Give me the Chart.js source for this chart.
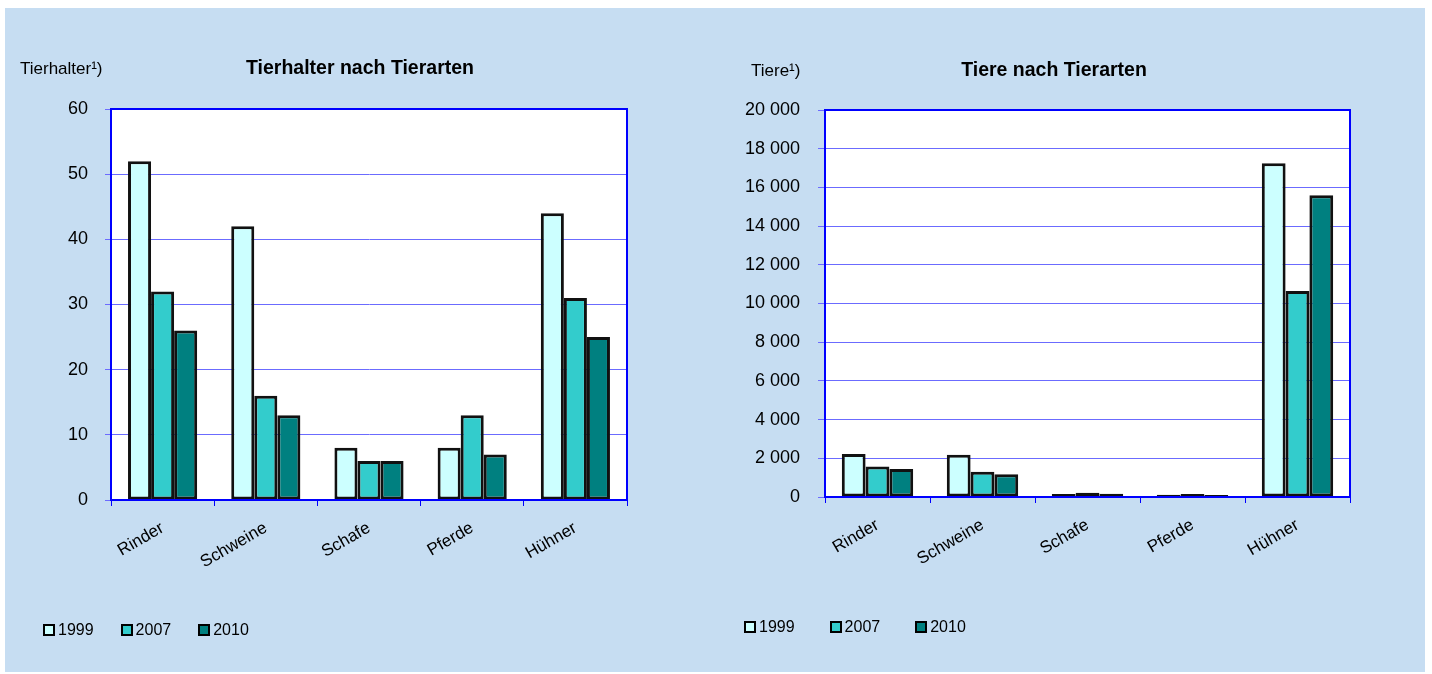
<!DOCTYPE html>
<html>
<head>
<meta charset="utf-8">
<script src="https://cdn.jsdelivr.net/npm/chart.js@4"></script>
<style>
  html, body { margin: 0; padding: 0; background: #ffffff; }
  #wrap { position: relative; width: 1432px; height: 674px; background: #ffffff; overflow: hidden; font-family: "Liberation Sans", Arial, sans-serif; }
  #panel { position: absolute; left: 5px; top: 8px; width: 1420px; height: 664px; background: #c6ddf2; }
  .cv { position: absolute; top: 0; }
  .txt { position: absolute; white-space: nowrap; color: #000; }
  .unit { font-size: 17px; line-height: 17px; }
  .title { font-size: 19.5px; line-height: 20px; font-weight: bold; transform: translateX(-50%); }
  .legend { font-size: 16px; line-height: 16px; display: flex; align-items: center; }
  .legend span.item { display: inline-flex; align-items: center; }
  .legend i { display: inline-block; width: 8px; height: 8px; border: 2px solid #000; margin-right: 3px; }
</style>
</head>
<body>
<div id="wrap">
  <div id="panel"></div>
  <div class="cv" style="left:0;width:716px;height:674px;"><canvas id="c1"></canvas></div>
  <div class="cv" style="left:716px;width:716px;height:674px;"><canvas id="c2"></canvas></div>

  <div class="txt unit" style="left:20px;top:60px;">Tierhalter¹)</div>
  <div class="txt title" style="left:360px;top:57px;">Tierhalter nach Tierarten</div>
  <div class="txt unit" style="left:751px;top:62px;">Tiere¹)</div>
  <div class="txt title" style="left:1054px;top:59px;">Tiere nach Tierarten</div>

  <div class="txt legend" id="leg1" style="left:43px;top:622px;"></div>
  <div class="txt legend" id="leg2" style="left:744px;top:619px;"></div>
</div>
<script>
// ---- data ----
const categories = ['Rinder', 'Schweine', 'Schafe', 'Pferde', 'Hühner'];
const years = ['1999', '2007', '2010'];
const yearColors = ['#ccffff', '#33cccc', '#008080'];

const tierhalter1999 = [52, 42, 8, 8, 44];
const tierhalter2007 = [32, 16, 6, 13, 31];
const tierhalter2010 = [26, 13, 6, 7, 25];

const tiere1999 = [2220, 2180, 160, 110, 17250];
const tiere2007 = [1570, 1310, 220, 150, 10650];
const tiere2010 = [1450, 1170, 170, 100, 15600];

const tierhalterTicks = { min: 0, max: 60, step: 10 };
const tiereTicks = { min: 0, max: 20000, step: 2000 };

// ---- helpers ----
Chart.defaults.font.family = '"Liberation Sans", Arial, sans-serif';
Chart.defaults.color = '#000';

const framePlugin = {
  id: 'frame',
  beforeDraw(chart) {
    const { ctx, chartArea: a } = chart;
    ctx.save();
    ctx.fillStyle = '#ffffff';
    ctx.fillRect(a.left, a.top, a.right - a.left, a.bottom - a.top);
    ctx.restore();
  },
  afterDraw(chart) {
    const { ctx, chartArea: a } = chart;
    ctx.save();
    ctx.strokeStyle = '#0000ff';
    ctx.lineWidth = 2;
    ctx.strokeRect(a.left, a.top, a.right - a.left, a.bottom - a.top);
    ctx.restore();
  }
};

function fmt(v) {
  return String(v).replace(/\B(?=(\d{3})+(?!\d))/g, ' ');
}

function makeChart(id, series, ticks, area) {
  const datasets = series.map((data, i) => ({
    label: years[i],
    data: data,
    backgroundColor: yearColors[i],
    borderColor: '#111111',
    borderWidth: 3,
    borderSkipped: false,
    categoryPercentage: area.cat,
    barPercentage: 1.0
  }));
  return new Chart(document.getElementById(id), {
    type: 'bar',
    data: { labels: categories, datasets },
    plugins: [framePlugin],
    options: {
      responsive: true,
      maintainAspectRatio: false,
      animation: false,
      layout: { padding: { left: 0, top: area.top, right: area.right, bottom: 0 } },
      plugins: { legend: { display: false }, title: { display: false }, tooltip: { enabled: false } },
      scales: {
        x: {
          afterFit(s) { s.height = area.xh; },
          grid: { display: true, drawOnChartArea: false, drawTicks: true, tickLength: 6, color: '#0000ff', lineWidth: 1, offset: true },
          border: { display: true, color: '#0000ff', width: 2 },
          ticks: { font: { size: 17 }, minRotation: 30, maxRotation: 30, padding: 12, color: '#000' }
        },
        y: {
          min: ticks.min, max: ticks.max,
          afterFit(s) { s.width = area.yw; },
          grid: { color: '#6b6bff', lineWidth: 1, tickLength: area.tl },
          border: { display: true, color: '#0000ff', width: 2 },
          ticks: { stepSize: ticks.step, font: { size: 18 }, padding: area.pad, color: '#000', callback: (v) => fmt(v) }
        }
      }
    }
  });
}

makeChart('c1', [tierhalter1999, tierhalter2007, tierhalter2010], tierhalterTicks,
  { top: 109, right: 89, xh: 174, yw: 111, tl: 6, pad: 17, cat: 0.67 });
makeChart('c2', [tiere1999, tiere2007, tiere2010], tiereTicks,
  { top: 110, right: 82, xh: 177, yw: 109, tl: 7, pad: 18, cat: 0.68 });

function legend(elId, gaps) {
  const el = document.getElementById(elId);
  years.forEach((y, i) => {
    const s = document.createElement('span');
    s.className = 'item';
    s.style.marginRight = gaps + 'px';
    const b = document.createElement('i');
    b.style.background = yearColors[i];
    s.appendChild(b);
    s.appendChild(document.createTextNode(y));
    el.appendChild(s);
  });
}
legend('leg1', 27);
legend('leg2', 35);
</script>
</body>
</html>
